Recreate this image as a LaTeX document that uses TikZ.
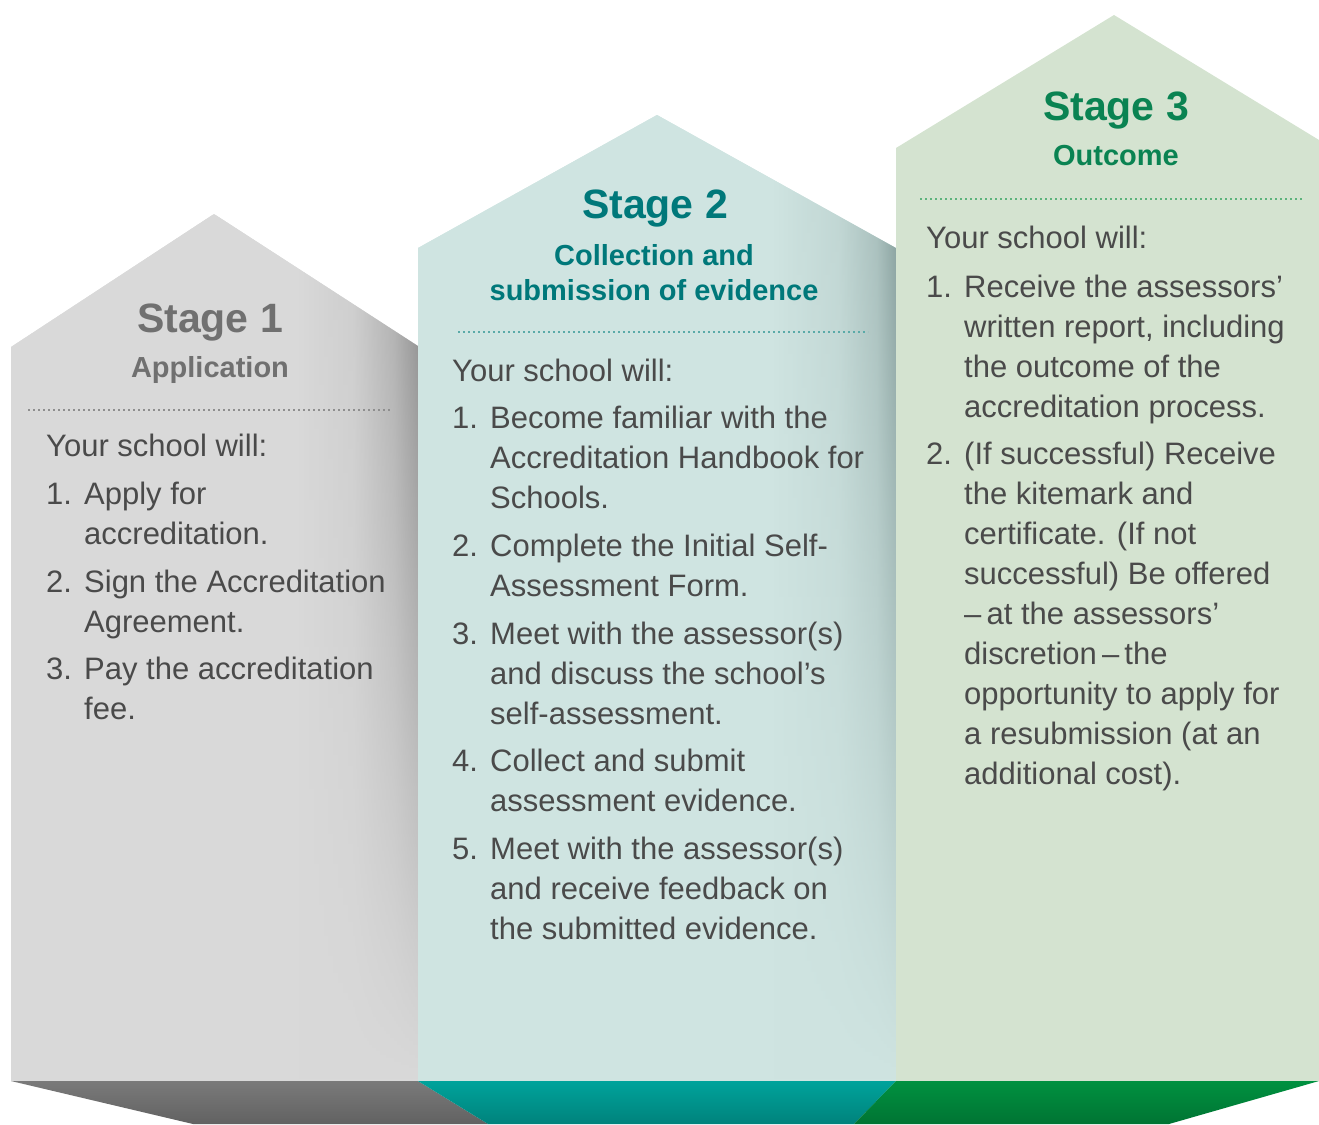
\documentclass[tikz,border=0pt]{standalone}
\usepackage{fontspec}
\setmainfont{Liberation Sans}
\usetikzlibrary{positioning,fadings}

\definecolor{greyfill}{HTML}{D9D9D9}
\definecolor{greyedge}{HTML}{8C8C8C}
\definecolor{greyhead}{HTML}{707070}
\definecolor{greydots}{HTML}{8E8E8E}
\definecolor{greystrip}{HTML}{7A7A7A}
\definecolor{tealfill}{HTML}{CFE4E1}
\definecolor{tealedge}{HTML}{849C9A}
\definecolor{tealhead}{HTML}{00787A}
\definecolor{tealdots}{HTML}{5AAAA8}
\definecolor{tealstrip}{HTML}{00A39B}
\definecolor{greenfill}{HTML}{D4E3D0}
\definecolor{greenhead}{HTML}{0A8352}
\definecolor{greendots}{HTML}{5DB37C}
\definecolor{greenstrip}{HTML}{009140}
\definecolor{bodytext}{HTML}{4A4A4A}

% darkening towards the right wall of a house
\pgfdeclarehorizontalshading{greywall}{100bp}{color(0bp)=(greyfill); color(60bp)=(greyfill);
	color(67bp)=(greyfill!85!greyedge); color(72bp)=(greyfill!45!greyedge); color(75bp)=(greyedge); color(100bp)=(greyedge)}
\pgfdeclarehorizontalshading{tealwall}{100bp}{color(0bp)=(tealfill); color(62bp)=(tealfill);
	color(69bp)=(tealfill!80!tealedge); color(73bp)=(tealfill!45!tealedge); color(75bp)=(tealedge); color(100bp)=(tealedge)}
\tikzfading[name=walldown, top color=transparent!0, middle color=transparent!15, bottom color=transparent!100]

\tikzset{
	stagehead/.style = {font=\bfseries\fontsize{41}{41}\selectfont, anchor=base, inner sep=0pt},
	stagesub/.style = {font=\bfseries\fontsize{29}{35}\selectfont, align=center, anchor=north, inner sep=0pt},
	bodyline/.style = {font=\fontsize{31}{40}\selectfont, text=bodytext, inner sep=0pt, anchor=base west},
	itembox/.style = {font=\fontsize{31}{40}\selectfont, text=bodytext, inner sep=0pt, anchor=north west, align=left},
	rule/.style = {line width=2pt, dash pattern=on 2pt off 3pt},
}

\begin{document}
\begin{tikzpicture}[x=1pt, y=-1pt]
	\useasboundingbox (0,0) rectangle (1319,1124);

	% houses
	\fill[greyfill] (11,1081) -- (11,347) -- (214,214) -- (418,346) -- (418,1081) -- cycle;
	\fill[tealfill] (418,1081) -- (418,248) -- (657,115) -- (896,248) -- (896,1081) -- cycle;
	\fill[greenfill] (896,1081) -- (896,148) -- (1114,15) -- (1319,140) -- (1319,1081) -- cycle;

	% shadow on the right walls
	\begin{scope}
		\clip (11,1081) -- (11,347) -- (214,214) -- (418,346) -- (418,1081) -- cycle;
		\shade[shading=greywall, path fading=walldown] (11,214) rectangle (418,1078);
	\end{scope}
	\begin{scope}
		\clip (418,1081) -- (418,248) -- (657,115) -- (896,248) -- (896,1081) -- cycle;
		\shade[shading=tealwall, path fading=walldown] (418,115) rectangle (896,1078);
	\end{scope}

	% floor
	\shade[top color=greystrip, bottom color=greystrip!80!black] (11,1081) -- (418,1081) -- (488,1124) -- (193,1124) -- cycle;
	\shade[top color=tealstrip, bottom color=tealstrip!80!black] (418,1081) -- (896,1081) -- (854,1124) -- (488,1124) -- cycle;
	\shade[top color=greenstrip, bottom color=greenstrip!80!black] (896,1081) -- (1319,1081) -- (1169,1124) -- (854,1124) -- cycle;

	% stage 1
	\node[stagehead, text=greyhead] (s1head) at (210,332) {Stage 1};
	\node[stagehead, font=\bfseries\fontsize{29}{35}\selectfont, text=greyhead] (s1sub) at (210,377) {Application};
	\draw[rule, greydots] (28,410) -- (390,410);
	\node[bodyline] (s1will) at (46,456) {Your school will:};
	\node[bodyline] (s1n1) at (46,504) {1.};
	\node[itembox] (s1i1) at (84,476) {\strut Apply for\\accreditation.};
	\node[bodyline] (s1n2) at (46,592) {2.};
	\node[itembox] (s1i2) at (84,564) {\strut Sign the Accreditation\\Agreement.};
	\node[bodyline] (s1n3) at (46,679) {3.};
	\node[itembox] (s1i3) at (84,651) {\strut Pay the accreditation\\fee.};

	% stage 2
	\node[stagehead, text=tealhead] (s2head) at (655,218) {Stage 2};
	\node[stagesub, text=tealhead] (s2sub) at (654,240.5) {\strut Collection and\\submission of evidence};
	\draw[rule, tealdots] (458,332) -- (868,332);
	\node[bodyline] (s2will) at (452,381) {Your school will:};
	\node[bodyline] (s2n1) at (452,428) {1.};
	\node[itembox] (s2i1) at (490,400) {\strut Become familiar with the\\Accreditation Handbook for\\Schools.};
	\node[bodyline] (s2n2) at (452,556) {2.};
	\node[itembox] (s2i2) at (490,528) {\strut Complete the Initial Self-\\Assessment Form.};
	\node[bodyline] (s2n3) at (452,644) {3.};
	\node[itembox] (s2i3) at (490,616) {\strut Meet with the assessor(s)\\and discuss the school’s\\self-assessment.};
	\node[bodyline] (s2n4) at (452,771) {4.};
	\node[itembox] (s2i4) at (490,743) {\strut Collect and submit\\assessment evidence.};
	\node[bodyline] (s2n5) at (452,859) {5.};
	\node[itembox] (s2i5) at (490,831) {\strut Meet with the assessor(s)\\and receive feedback on\\the submitted evidence.};

	% stage 3
	\node[stagehead, text=greenhead] (s3head) at (1116,120) {Stage 3};
	\node[stagehead, font=\bfseries\fontsize{29}{35}\selectfont, text=greenhead] (s3sub) at (1116,165) {Outcome};
	\draw[rule, greendots] (920,199) -- (1303,199);
	\node[bodyline] (s3will) at (926,248) {Your school will:};
	\node[bodyline] (s3n1) at (926,297) {1.};
	\node[itembox] (s3i1) at (964,269) {\strut Receive the assessors’\\written report, including\\the outcome of the\\accreditation process.};
	\node[bodyline] (s3n2) at (926,464) {2.};
	\node[itembox] (s3i2) at (964,436) {\strut (If successful) Receive\\the kitemark and\\certificate. (If not\\successful) Be offered\\–\,at the assessors’\\discretion\,–\,the\\opportunity to apply for\\a resubmission (at an\\additional cost).};
\end{tikzpicture}
\end{document}
